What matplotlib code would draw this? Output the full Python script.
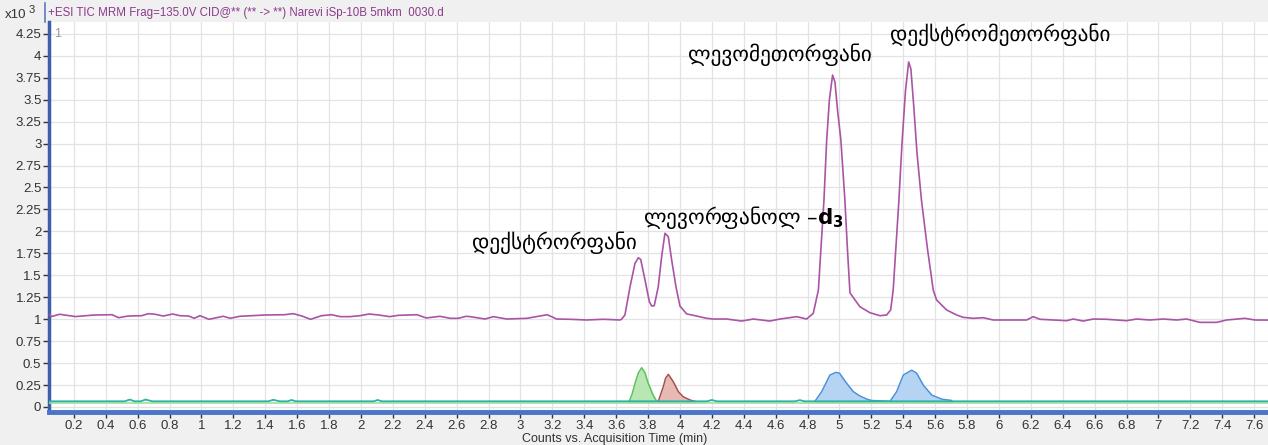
import matplotlib.pyplot as plt
from matplotlib.lines import Line2D
from matplotlib.ticker import MultipleLocator, FormatStrFormatter
import numpy as np

# TIC trace (x10^3 counts)
tic_t = [0.044, 0.06, 0.11, 0.21, 0.33, 0.44, 0.48, 0.54, 0.625, 0.667, 0.71, 0.76,
         0.82, 0.865, 0.92, 0.955, 0.99, 1.047, 1.095, 1.137, 1.18, 1.24, 1.40, 1.52,
         1.576, 1.63, 1.684, 1.753, 1.816, 1.87, 1.93, 1.994, 2.05, 2.11, 2.18, 2.234,
         2.35, 2.41, 2.495, 2.56, 2.61, 2.66, 2.684, 2.778, 2.83, 2.914, 3.04, 3.10,
         3.168, 3.227, 3.31, 3.415, 3.52, 3.624,
         3.634, 3.655, 3.687, 3.718, 3.739, 3.754, 3.781, 3.808, 3.823, 3.839, 3.864,
         3.885, 3.906, 3.927, 3.948, 3.975, 4.0, 4.042, 4.105, 4.167,
         4.21, 4.293, 4.387, 4.46, 4.564, 4.627, 4.732, 4.794, 4.836,
         4.868, 4.903, 4.92, 4.937, 4.957, 4.972, 4.987, 5.009, 5.034, 5.05, 5.066,
         5.128, 5.191, 5.254, 5.296, 5.321,
         5.337, 5.373, 5.392, 5.414, 5.434, 5.448, 5.467, 5.486, 5.514, 5.552, 5.588,
         5.609, 5.672, 5.735, 5.776, 5.839, 5.902, 5.964, 6.11, 6.174, 6.215, 6.257,
         6.424, 6.466, 6.528, 6.591, 6.675, 6.738, 6.80, 6.863, 6.947, 7.03, 7.114,
         7.177, 7.26, 7.365, 7.428, 7.542, 7.605, 7.687]
tic_v = [1.06, 1.03, 1.056, 1.03, 1.048, 1.051, 1.017, 1.036, 1.04, 1.063, 1.056, 1.036,
         1.059, 1.04, 1.036, 1.01, 1.04, 0.999, 1.017, 1.033, 1.01, 1.033, 1.048, 1.051,
         1.063, 1.036, 0.999, 1.04, 1.051, 1.029, 1.029, 1.04, 1.059, 1.048, 1.029, 1.044,
         1.051, 1.014, 1.033, 1.01, 1.01, 1.033, 1.029, 1.002, 1.029, 1.002, 1.01, 1.029,
         1.051, 1.002, 0.999, 0.991, 0.999, 0.991,
         1.0, 1.048, 1.37, 1.636, 1.70, 1.68, 1.446, 1.20, 1.15, 1.154, 1.37,
         1.71, 1.978, 1.94, 1.674, 1.37, 1.15, 1.06, 1.036, 1.01,
         1.002, 1.002, 0.979, 1.002, 0.979, 1.002, 1.029, 1.002, 1.067,
         1.333, 2.36, 3.04, 3.5, 3.78, 3.7, 3.4, 3.04, 2.36, 1.8, 1.30,
         1.142, 1.074, 1.04, 1.048, 1.105,
         1.333, 2.36, 3.0, 3.6, 3.93, 3.85, 3.4, 2.9, 2.36, 1.8, 1.333,
         1.219, 1.105, 1.048, 1.021, 1.01, 1.017, 0.991, 0.991, 0.991, 1.029, 0.999,
         0.983, 1.002, 0.979, 1.002, 0.999, 0.991, 0.983, 1.002, 0.991, 1.002, 0.991,
         1.002, 0.964, 0.964, 0.991, 1.01, 0.991, 0.99]

# baseline MRM trace with small bumps
base_t = [0.044, 0.52, 0.55, 0.58, 0.62, 0.65, 0.69, 1.42, 1.45, 1.49, 1.54, 1.565,
          1.59, 2.08, 2.105, 2.13, 4.17, 4.2, 4.23, 4.72, 4.752, 4.78, 7.687]
base_v = [0.065, 0.065, 0.085, 0.065, 0.065, 0.085, 0.065, 0.065, 0.082, 0.065, 0.065, 0.08,
          0.065, 0.065, 0.08, 0.065, 0.065, 0.08, 0.065, 0.065, 0.078, 0.065, 0.065]

# dextrorphan MRM (green)
green_t = [3.682, 3.70, 3.718, 3.739, 3.76, 3.78, 3.801, 3.83, 3.854]
green_v = [0.065, 0.15, 0.27, 0.39, 0.448, 0.39, 0.27, 0.14, 0.065]

# levorphanol-d3 MRM (red)
red_t = [3.864, 3.895, 3.91, 3.927, 3.958, 3.99, 4.02, 4.063, 4.094]
red_v = [0.065, 0.23, 0.33, 0.372, 0.288, 0.174, 0.117, 0.08, 0.065]

# levomethorphan / dextromethorphan MRM (blue)
blue_t = [4.846, 4.888, 4.94, 4.978, 5.0, 5.045, 5.087, 5.129, 5.171, 5.2,
          5.317, 5.358, 5.4, 5.453, 5.484, 5.525, 5.578, 5.64, 5.703]
blue_v = [0.065, 0.174, 0.364, 0.395, 0.385, 0.27, 0.174, 0.125, 0.09, 0.075,
          0.065, 0.174, 0.364, 0.42, 0.385, 0.25, 0.137, 0.09, 0.075]

labels = ['დექსტრორფანი', 'ლევორფანოლ –$\\mathbf{d}_\\mathbf{3}$', 'ლევომეთორფანი', 'დექსტრომეთორფანი']
label_t = [3.216, 3.768, 4.627, 6.006]
label_v = [1.87, 2.16, 4.01, 4.24]
label_ha = ['center', 'left', 'center', 'center']

W, H = 1268, 445
fig = plt.figure(figsize=(W / 100, H / 100), dpi=100, facecolor='#f0f0f0')
ax = fig.add_axes([49 / W, 33 / H, 1 - 49 / W, 390 / H])
ax.set_facecolor('white')

tick_font = ['Liberation Sans', 'DejaVu Sans']

ax.fill_between(green_t, green_v, 0.055, color='#b9e7b3', zorder=2)
ax.plot(green_t, green_v, color='#5cbf5c', lw=1, zorder=3)
ax.fill_between(red_t, red_v, 0.055, color='#e8b9b4', zorder=2)
ax.plot(red_t, red_v, color='#a0504a', lw=1, zorder=3)
ax.fill_between(blue_t, blue_v, 0.055, color='#b5d3f3', zorder=2)
ax.plot(blue_t, blue_v, color='#4a8fd8', lw=1, zorder=3)

ax.axhline(0.05, color='#9be39b', lw=1.2, zorder=3)
ax.plot(base_t, base_v, color='#2fb0a8', lw=1.3, zorder=4)
ax.plot(tic_t, tic_v, color='#aa54a6', lw=1.2, zorder=5)

ax.set_xlim(0.044, 7.687)
ax.set_ylim(-0.057, 4.385)
ax.xaxis.set_major_locator(MultipleLocator(0.2))
ax.yaxis.set_major_locator(MultipleLocator(0.25))
ax.xaxis.set_major_formatter(FormatStrFormatter('%g'))
ax.yaxis.set_major_formatter(FormatStrFormatter('%g'))
ax.grid(True, color='#e3e3e3', lw=0.9, zorder=0)
ax.set_axisbelow(True)

ax.tick_params(axis='both', direction='out', length=4, width=1, color='#333333',
               labelcolor='#333333', labelsize=9.5, pad=1.5)
for lab in ax.get_xticklabels() + ax.get_yticklabels():
    lab.set_family(tick_font)

for s in ['top', 'right']:
    ax.spines[s].set_visible(False)
ax.spines['left'].set_color('#3d5fa8')
ax.spines['left'].set_linewidth(2.5)
ax.spines['bottom'].set_color('#4a74c9')
ax.spines['bottom'].set_linewidth(3.5)

ax.text(0.075, 4.25, '1', color='#999999', fontsize=9, va='center', family=tick_font)

for txt, t, v, ha in zip(labels, label_t, label_v, label_ha):
    ax.text(t, v, txt, fontsize=15.3, ha=ha, va='center', color='black', zorder=6)

fig.add_artist(Line2D([45 / W, 45 / W], [(H - 3) / H, (H - 22) / H], color='#5b7bc0', lw=1.2))
fig.text(48 / W, (H - 13) / H, '+ESI TIC MRM Frag=135.0V CID@** (** -> **) Narevi iSp-10B 5mkm  0030.d',
         color='#8b3a8b', fontsize=8.3, va='center', family=tick_font)
fig.text(5 / W, (H - 15) / H, 'x10', color='#333333', fontsize=9.5, va='center', family=tick_font)
fig.text(29 / W, (H - 10) / H, '3', color='#333333', fontsize=8, va='center', family=tick_font)
fig.text(615 / W, (H - 439) / H, 'Counts vs. Acquisition Time (min)', color='#333333',
         fontsize=9, ha='center', va='center', family=tick_font)

plt.savefig('out.png', dpi=100, facecolor=fig.get_facecolor())
